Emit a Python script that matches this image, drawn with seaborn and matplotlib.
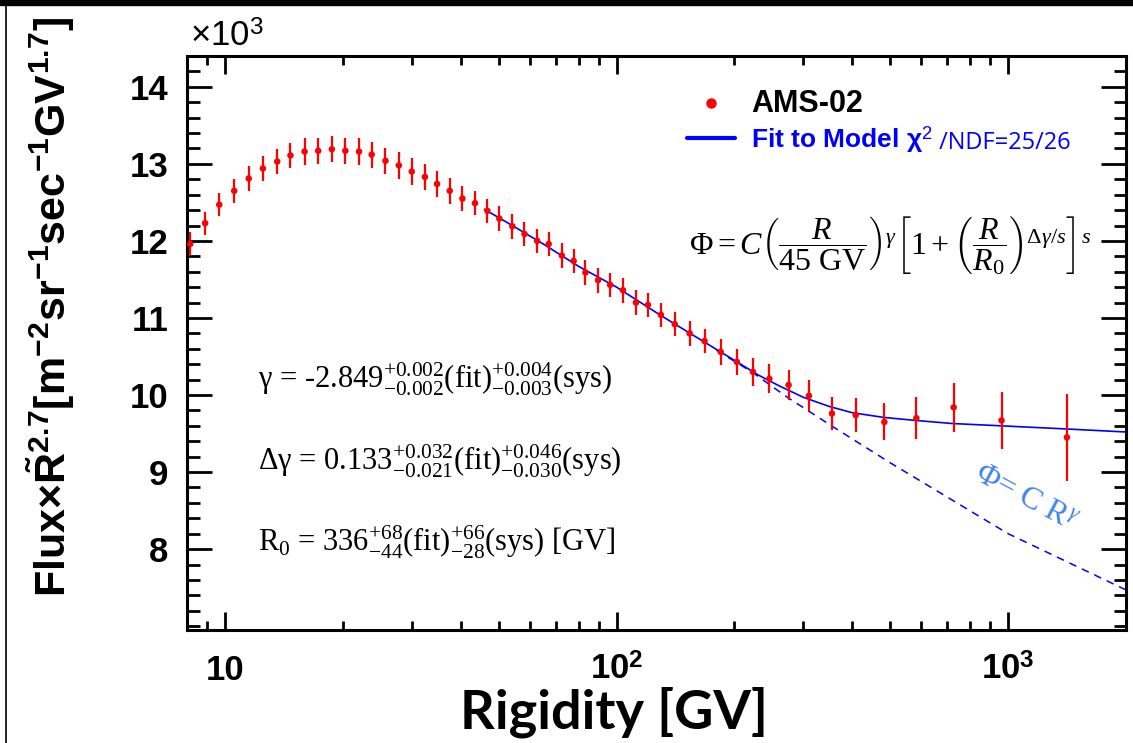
import seaborn as sns
import matplotlib.pyplot as plt
from matplotlib.lines import Line2D
from matplotlib.patches import Rectangle
from matplotlib.ticker import FixedLocator, FixedFormatter, LogLocator, NullFormatter, MultipleLocator

# AMS-02 data (flux x R^2.7 in units of 10^3)
rigidity = [8.15, 8.9, 9.67, 10.56, 11.5, 12.5, 13.6, 14.7, 15.97, 17.3,
            18.75, 20.3, 22.0, 23.7, 25.7, 27.8, 30.0, 32.4, 34.8, 37.5,
            40.4, 43.5, 46.8, 50.2, 54.2, 58.2, 62.7, 67.1, 72.5, 77.7,
            83.3, 89.7, 96.3, 103.9, 112.1, 120.3, 129.8, 140.8, 153.7, 167.8,
            184.5, 202.9, 223, 245.6, 275, 310, 355, 408, 483, 583,
            726, 962, 1413]
flux = [11.96, 12.23, 12.47, 12.65, 12.81, 12.94, 13.03, 13.11, 13.16, 13.17,
        13.19, 13.17, 13.16, 13.12, 13.04, 12.98, 12.90, 12.83, 12.74, 12.65,
        12.55, 12.49, 12.39, 12.29, 12.19, 12.09, 12.00, 11.96, 11.81, 11.74,
        11.59, 11.49, 11.43, 11.36, 11.20, 11.17, 11.04, 10.92, 10.80, 10.70,
        10.56, 10.43, 10.30, 10.21, 10.13, 9.99, 9.76, 9.74, 9.65, 9.70,
        9.84, 9.67, 9.45]
flux_err = [0.15, 0.15, 0.15, 0.16, 0.16, 0.16, 0.16, 0.16, 0.17, 0.17,
            0.17, 0.17, 0.17, 0.17, 0.17, 0.17, 0.17, 0.17, 0.17, 0.17,
            0.16, 0.16, 0.16, 0.16, 0.16, 0.16, 0.16, 0.16, 0.16, 0.16,
            0.16, 0.16, 0.16, 0.16, 0.16, 0.16, 0.16, 0.16, 0.16, 0.16,
            0.17, 0.17, 0.18, 0.19, 0.19, 0.20, 0.21, 0.22, 0.24, 0.27,
            0.32, 0.37, 0.56]

# model fit (solid) and pure power law (dashed)
fit_R = [46, 55, 65, 80, 100, 130, 160, 200, 230, 260, 300, 350, 400, 480,
         580, 720, 960, 1400, 2000]
fit_flux = [12.41, 12.18, 11.96, 11.67, 11.40, 11.03, 10.75, 10.45, 10.26, 10.12,
            9.97, 9.85, 9.77, 9.71, 9.67, 9.63, 9.60, 9.56, 9.52]
pl_R = [180, 220, 245, 275, 354, 500, 1000, 2000]
pl_flux = [10.58, 10.31, 10.14, 9.96, 9.60, 9.12, 8.20, 7.47]

xtick_vals = [10, 100, 1000]
xtick_labels = ["10", r"10$^{\mathbf{2}}$", r"10$^{\mathbf{3}}$"]
ytick_vals = [8, 9, 10, 11, 12, 13, 14]
ytick_labels = ["8", "9", "10", "11", "12", "13", "14"]

sns.set_style("ticks")
plt.rcParams["font.family"] = ["Liberation Sans", "DejaVu Sans"]
plt.rcParams["text.color"] = "black"
plt.rcParams["axes.labelcolor"] = "black"
plt.rcParams["xtick.color"] = "black"
plt.rcParams["ytick.color"] = "black"
plt.rcParams["mathtext.fontset"] = "custom"
plt.rcParams["mathtext.rm"] = "Liberation Serif"
plt.rcParams["mathtext.it"] = "Liberation Serif:italic"
plt.rcParams["mathtext.bf"] = "Liberation Sans:bold"
plt.rcParams["mathtext.sf"] = "Liberation Sans"

fig = plt.figure(figsize=(11.33, 7.43), dpi=100)
ax = fig.add_axes([187 / 1133, 113 / 743, 939 / 1133, 574 / 743])
ax.set_xscale("log")

sns.lineplot(x=pl_R, y=pl_flux, ax=ax, color="blue", lw=1.1,
             linestyle=(0, (5, 4)), sort=False, estimator=None)
sns.lineplot(x=fit_R, y=fit_flux, ax=ax, color="blue", lw=1.2,
             sort=False, estimator=None)
ax.errorbar(rigidity, flux, yerr=flux_err, fmt="none", ecolor="red",
            elinewidth=1.6, capsize=0)
sns.scatterplot(x=rigidity, y=flux, ax=ax, color="red", s=22,
                edgecolor="none", zorder=4)

ax.set_xlim(8, 2000)
ax.set_ylim(6.95, 14.4)

for sp in ax.spines.values():
    sp.set_linewidth(2.2)
    sp.set_color("black")

ax.xaxis.set_major_locator(FixedLocator(xtick_vals))
ax.xaxis.set_major_formatter(FixedFormatter(xtick_labels))
ax.xaxis.set_minor_locator(LogLocator(base=10, subs=range(2, 10)))
ax.xaxis.set_minor_formatter(NullFormatter())
ax.yaxis.set_major_locator(FixedLocator(ytick_vals))
ax.yaxis.set_major_formatter(FixedFormatter(ytick_labels))
ax.yaxis.set_minor_locator(MultipleLocator(0.2))

ax.tick_params(which="both", direction="in", top=True, right=True, width=2,
               color="black", labelcolor="black")
ax.tick_params(axis="x", which="major", length=13, pad=36)
ax.tick_params(axis="x", which="minor", length=6.5)
ax.tick_params(axis="y", which="major", length=18, pad=13.5)
ax.tick_params(axis="y", which="minor", length=9)
for t in ax.get_yticklabels():
    t.set_fontsize(25)
    t.set_fontweight("bold")
for t in ax.get_xticklabels():
    t.set_fontsize(25)
    t.set_fontweight("bold")
    t.set_va("baseline")

ax.set_xlabel("Rigidity [GV]", fontsize=39, fontweight="bold", family="Lato")
ax.xaxis.set_label_coords(0.455, -0.098)
ax.set_ylabel(r"$\mathbf{Flux{\times}\tilde{R}^{2.7}[m^{-2}sr^{-1}sec^{-1}GV^{1.7}]}$",
              fontsize=31)
ax.yaxis.set_label_coords(-0.117, 0.563)

ax.text(0.003, 1.016, r"×10$^{\mathsf{3}}$", transform=ax.transAxes,
        fontsize=25, va="baseline", ha="left")

# legend
handles = [Line2D([], [], marker="o", color="red", ls="none", ms=6.5),
           Line2D([], [], color="blue", lw=3)]
labels = ["AMS-02", r"Fit to Model χ$^{\mathsf{2}}$"]
leg = ax.legend(handles, labels, loc="center left", bbox_to_anchor=(0.5325, 0.885),
                frameon=False, prop={"family": "Liberation Sans", "weight": "bold", "size": 19},
                handlelength=1.8, handletextpad=0.62, labelspacing=0.2,
                borderpad=0, borderaxespad=0)
leg.get_texts()[0].set_fontsize(22)
leg.get_texts()[1].set_color("blue")
ax.annotate(" /NDF=25/26", xy=(1, 0), xycoords=leg.get_texts()[1],
            xytext=(0, 6), textcoords="offset pixels", va="baseline",
            ha="left", fontsize=17, family="Open Sans", color="blue", zorder=6)

# model formula
ax.text(0.535, 0.67,
        r"$\Phi = C\left(\dfrac{R}{45\ \mathrm{GV}}\right)^{\gamma}\left[1 + \left(\dfrac{R}{R_0}\right)^{\Delta\gamma/s}\right]^{s}$",
        transform=ax.transAxes, fontsize=23, va="center", ha="left")

# fit results
serif = ["Liberation Serif", "DejaVu Serif"]
ax.text(0.0756, 0.4216, r"γ = -2.849$^{+0.002}_{-0.002}$(fit)$^{+0.004}_{-0.003}$(sys)",
        transform=ax.transAxes, fontsize=22, family=serif, va="baseline")
ax.text(0.0756, 0.2787, r"Δγ = 0.133$^{+0.032}_{-0.021}$(fit)$^{+0.046}_{-0.030}$(sys)",
        transform=ax.transAxes, fontsize=22, family=serif, va="baseline")
ax.text(0.0756, 0.1359, r"R$_0$ = 336$^{+68}_{-44}$(fit)$^{+66}_{-28}$(sys) [GV]",
        transform=ax.transAxes, fontsize=22, family=serif, va="baseline")

ax.text(0.893, 0.23, r"$\Phi$= C R$^{\gamma}$", transform=ax.transAxes,
        fontsize=23, family=serif, color="#3d85f0", rotation=-28,
        ha="center", va="center", rotation_mode="anchor")

# page frame bits from the source image
fig.add_artist(Rectangle((0, 1 - 5 / 743), 1, 5 / 743, transform=fig.transFigure,
                         color="black"))
fig.add_artist(Line2D([6 / 1133, 6 / 1133], [0, 1], transform=fig.transFigure,
                      color="black", lw=1.2))

fig.savefig("out.png", dpi=100)
